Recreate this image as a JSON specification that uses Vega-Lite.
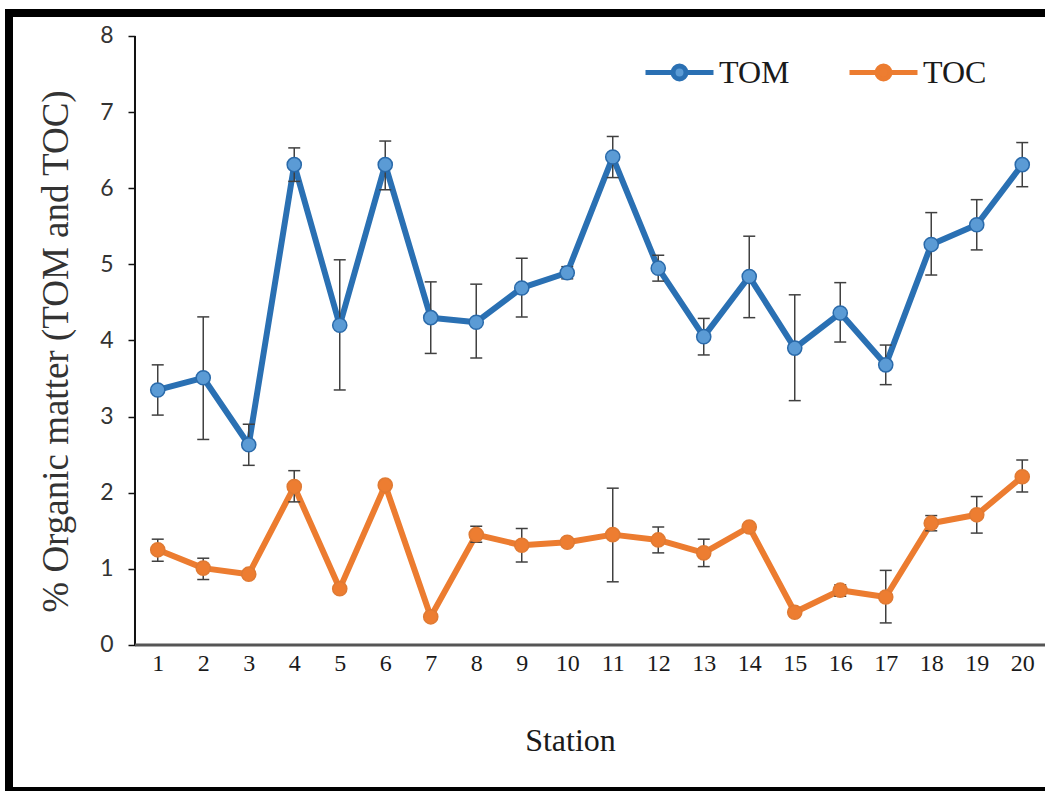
{
  "$schema": "https://vega.github.io/schema/vega-lite/v6.json",
  "autosize": {"type": "none"},
  "padding": {"left": 9, "top": 13, "right": 0, "bottom": 0},
  "width": 1041,
  "height": 778,
  "background": "white",
  "config": {
    "view": {"fill": "white", "stroke": "black", "strokeWidth": 8},
    "axis": {"grid": false, "labelFlush": false, "labelOverlap": false}
  },
  "datasets": {
    "obs": [
      {"station": 1, "series": "TOM", "value": 3.35, "lo": 3.02, "hi": 3.68},
      {"station": 2, "series": "TOM", "value": 3.51, "lo": 2.70, "hi": 4.31},
      {"station": 3, "series": "TOM", "value": 2.63, "lo": 2.36, "hi": 2.90},
      {"station": 4, "series": "TOM", "value": 6.31, "lo": 6.09, "hi": 6.53},
      {"station": 5, "series": "TOM", "value": 4.20, "lo": 3.35, "hi": 5.06},
      {"station": 6, "series": "TOM", "value": 6.31, "lo": 5.98, "hi": 6.62},
      {"station": 7, "series": "TOM", "value": 4.30, "lo": 3.83, "hi": 4.77},
      {"station": 8, "series": "TOM", "value": 4.24, "lo": 3.77, "hi": 4.74},
      {"station": 9, "series": "TOM", "value": 4.69, "lo": 4.31, "hi": 5.08},
      {"station": 10, "series": "TOM", "value": 4.89, "lo": 4.81, "hi": 4.97},
      {"station": 11, "series": "TOM", "value": 6.41, "lo": 6.14, "hi": 6.68},
      {"station": 12, "series": "TOM", "value": 4.95, "lo": 4.78, "hi": 5.12},
      {"station": 13, "series": "TOM", "value": 4.05, "lo": 3.81, "hi": 4.29},
      {"station": 14, "series": "TOM", "value": 4.84, "lo": 4.30, "hi": 5.37},
      {"station": 15, "series": "TOM", "value": 3.90, "lo": 3.21, "hi": 4.60},
      {"station": 16, "series": "TOM", "value": 4.36, "lo": 3.98, "hi": 4.76},
      {"station": 17, "series": "TOM", "value": 3.68, "lo": 3.42, "hi": 3.94},
      {"station": 18, "series": "TOM", "value": 5.26, "lo": 4.86, "hi": 5.68},
      {"station": 19, "series": "TOM", "value": 5.52, "lo": 5.19, "hi": 5.85},
      {"station": 20, "series": "TOM", "value": 6.31, "lo": 6.02, "hi": 6.60},
      {"station": 1, "series": "TOC", "value": 1.25, "lo": 1.10, "hi": 1.39},
      {"station": 2, "series": "TOC", "value": 1.01, "lo": 0.86, "hi": 1.14},
      {"station": 3, "series": "TOC", "value": 0.93, "lo": 0.88, "hi": 0.98},
      {"station": 4, "series": "TOC", "value": 2.08, "lo": 1.88, "hi": 2.29},
      {"station": 5, "series": "TOC", "value": 0.74, "lo": 0.71, "hi": 0.77},
      {"station": 6, "series": "TOC", "value": 2.10, "lo": 2.06, "hi": 2.14},
      {"station": 7, "series": "TOC", "value": 0.37, "lo": 0.34, "hi": 0.40},
      {"station": 8, "series": "TOC", "value": 1.45, "lo": 1.35, "hi": 1.56},
      {"station": 9, "series": "TOC", "value": 1.31, "lo": 1.09, "hi": 1.53},
      {"station": 10, "series": "TOC", "value": 1.35, "lo": 1.30, "hi": 1.40},
      {"station": 11, "series": "TOC", "value": 1.45, "lo": 0.83, "hi": 2.06},
      {"station": 12, "series": "TOC", "value": 1.38, "lo": 1.21, "hi": 1.55},
      {"station": 13, "series": "TOC", "value": 1.21, "lo": 1.03, "hi": 1.39},
      {"station": 14, "series": "TOC", "value": 1.55, "lo": 1.51, "hi": 1.59},
      {"station": 15, "series": "TOC", "value": 0.43, "lo": 0.38, "hi": 0.48},
      {"station": 16, "series": "TOC", "value": 0.72, "lo": 0.64, "hi": 0.79},
      {"station": 17, "series": "TOC", "value": 0.63, "lo": 0.29, "hi": 0.98},
      {"station": 18, "series": "TOC", "value": 1.60, "lo": 1.50, "hi": 1.70},
      {"station": 19, "series": "TOC", "value": 1.71, "lo": 1.47, "hi": 1.95},
      {"station": 20, "series": "TOC", "value": 2.21, "lo": 2.01, "hi": 2.43}
    ],
    "one": [{"k": 1}]
  },
  "layer": [
    {
      "data": {"name": "one"},
      "mark": {"type": "rule", "color": "#111111", "strokeWidth": 2},
      "encoding": {
        "x": {"datum": 0.5, "type": "quantitative"},
        "y": {"datum": 0, "type": "quantitative"},
        "y2": {"datum": 8}
      }
    },
    {
      "data": {"name": "one"},
      "mark": {"type": "rule", "color": "#555555", "strokeWidth": 3},
      "encoding": {
        "y": {"datum": 0, "type": "quantitative"},
        "x": {"datum": 0.5, "type": "quantitative"},
        "x2": {"datum": 20.6}
      }
    },
    {
      "data": {"name": "obs"},
      "mark": {"type": "line", "strokeWidth": 6, "strokeCap": "round", "strokeJoin": "round"},
      "encoding": {
        "x": {
          "field": "station", "type": "quantitative",
          "scale": {"domain": [-2.269, 20.61], "nice": false, "zero": false},
          "axis": {
            "orient": "bottom", "offset": -146, "values": [1,2,3,4,5,6,7,8,9,10,11,12,13,14,15,16,17,18,19,20],
            "format": "d",
            "domain": false, "ticks": false, "tickSize": 0, "labelPadding": 6,
            "labelFont": "Liberation Serif", "labelFontSize": 24, "labelColor": "#1a1a1a",
            "title": "Station", "titleFont": "Liberation Serif", "titleFontSize": 32,
            "titleFontWeight": "normal", "titleColor": "#1a1a1a",
            "titleX": 561, "titleY": 95, "titleBaseline": "middle", "titleAlign": "center"
          }
        },
        "y": {
          "field": "value", "type": "quantitative",
          "scale": {"domain": [-1.918, 8.302], "nice": false, "zero": false},
          "axis": {
            "orient": "left", "offset": -126, "values": [0,1,2,3,4,5,6,7,8],
            "format": "d",
            "domain": false, "ticks": true, "tickSize": 7, "tickWidth": 1.5, "tickColor": "#111111",
            "labelPadding": 15, "labelFont": "Lato", "labelFontSize": 23, "labelColor": "#333333",
            "title": "% Organic matter (TOM and TOC)", "titleFont": "Liberation Serif",
            "titleFontSize": 37, "titleFontWeight": "normal", "titleColor": "#333333",
            "titleX": -79, "titleY": 338, "titleAngle": -90, "titleBaseline": "middle", "titleAlign": "center"
          }
        },
        "color": {
          "field": "series", "type": "nominal",
          "scale": {"domain": ["TOM", "TOC"], "range": ["#2a70b3", "#ec7c30"]},
          "legend": {
            "orient": "none", "legendX": 634, "legendY": 23, "direction": "horizontal",
            "title": null, "padding": 0,
            "symbolType": "M-1,0L-0.19,0M0.19,0L1,0M-0.19,0A0.19,0.19,0,1,0,0.19,0A0.19,0.19,0,1,0,-0.19,0Z",
            "symbolSize": 4624, "symbolStrokeWidth": 5,
            "labelFont": "Liberation Serif", "labelFontSize": 32, "labelColor": "#1a1a1a",
            "labelOffset": 3, "columnPadding": 49,
            "encode": {
              "symbols": {
                "update": {
                  "shape": {"value": "M-1,0L-0.19,0M0.19,0L1,0M-0.19,0A0.19,0.19,0,1,0,0.19,0A0.19,0.19,0,1,0,-0.19,0Z"},
                  "size": {"value": 4624},
                  "strokeWidth": {"value": 5},
                  "fill": {"signal": "datum.value === 'TOM' ? '#5b9bd5' : '#ed7d31'"},
                  "stroke": {"signal": "datum.value === 'TOM' ? '#2a6aaa' : '#e0823f'"},
                  "opacity": {"value": 1},
                  "fillOpacity": {"value": 1},
                  "strokeOpacity": {"value": 1}
                }
              }
            }
          }
        }
      }
    },
    {
      "data": {"name": "obs"},
      "mark": {"type": "rule", "color": "#404040", "strokeWidth": 1.5},
      "encoding": {
        "x": {"field": "station", "type": "quantitative"},
        "y": {"field": "lo", "type": "quantitative"},
        "y2": {"field": "hi"}
      }
    },
    {
      "data": {"name": "obs"},
      "mark": {"type": "tick", "orient": "horizontal", "color": "#404040", "size": 12, "thickness": 1.5, "opacity": 1},
      "encoding": {
        "x": {"field": "station", "type": "quantitative"},
        "y": {"field": "lo", "type": "quantitative"}
      }
    },
    {
      "data": {"name": "obs"},
      "mark": {"type": "tick", "orient": "horizontal", "color": "#404040", "size": 12, "thickness": 1.5, "opacity": 1},
      "encoding": {
        "x": {"field": "station", "type": "quantitative"},
        "y": {"field": "hi", "type": "quantitative"}
      }
    },
    {
      "data": {"name": "obs"},
      "mark": {"type": "point", "filled": true, "opacity": 1, "strokeWidth": 1.5, "shape": "circle", "size": 200},
      "encoding": {
        "x": {"field": "station", "type": "quantitative"},
        "y": {"field": "value", "type": "quantitative"},
        "fill": {
          "field": "series", "type": "nominal",
          "scale": {"domain": ["TOM", "TOC"], "range": ["#5b9bd5", "#ed7d31"]}, "legend": null
        },
        "stroke": {
          "field": "series", "type": "nominal",
          "scale": {"domain": ["TOM", "TOC"], "range": ["#2a6aaa", "#e07a33"]}, "legend": null
        }
      }
    }
  ]
}
